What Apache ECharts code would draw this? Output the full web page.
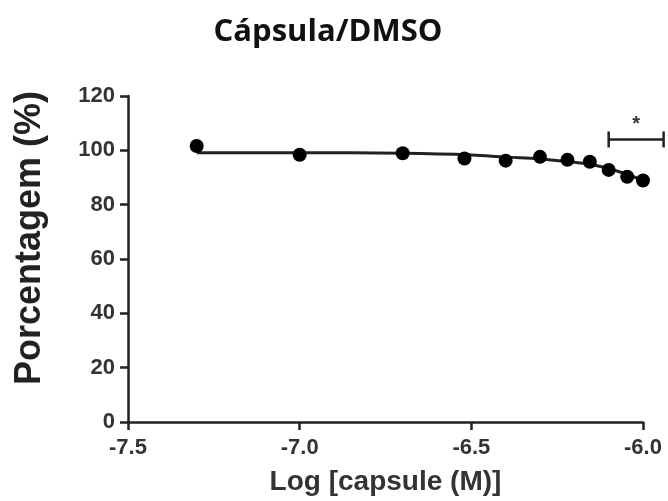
<!DOCTYPE html>
<html>
<head>
<meta charset="utf-8">
<script src="https://cdn.jsdelivr.net/npm/echarts@6/dist/echarts.min.js"></script>
<style>
  html, body { margin: 0; padding: 0; background: #ffffff; }
  #chart { width: 668px; height: 501px; }
</style>
</head>
<body>
<div id="chart"></div>
<script>
// Viability measurements: log molar concentration vs. percentage
const logConc = [-7.30, -7.00, -6.70, -6.52, -6.40, -6.30, -6.22, -6.155, -6.10, -6.046, -6.00];
const percent = [101.6, 98.4, 98.9, 97.0, 96.2, 97.6, 96.5, 95.8, 92.8, 90.3, 88.9];

// Fitted dose-response curve vertices
const fitX = [-7.30, -7.00, -6.70, -6.50, -6.40, -6.30, -6.20, -6.15, -6.10, -6.05, -6.00];
const fitY = [99.1, 99.1, 98.9, 98.3, 97.5, 96.8, 95.6, 94.8, 93.3, 91.3, 89.0];

// Significance bracket: [xStart, xEnd, y, label]
const sigBracket = [[-6.10, -5.94, 104, '*']];

const yTicks = { min: 0, max: 120, step: 20 };
const xTicks = { min: -7.5, max: -6.0, step: 0.5 };

const ink = '#222222';
const chart = echarts.init(document.getElementById('chart'), null, { renderer: 'canvas' });

chart.setOption({
  backgroundColor: '#ffffff',
  animation: false,
  title: {
    text: 'Cápsula/DMSO',
    left: 323,
    top: 12,
    textAlign: 'center',
    textStyle: {
      fontFamily: 'Open Sans',
      fontWeight: 'bold',
      fontSize: 31,
      color: '#111111'
    }
  },
  grid: { left: 128, right: 25, top: 96, bottom: 78, containLabel: false },
  xAxis: {
    type: 'value',
    min: xTicks.min,
    max: xTicks.max,
    interval: xTicks.step,
    name: 'Log [capsule (M)]',
    nameLocation: 'middle',
    nameGap: 46,
    nameTextStyle: {
      fontFamily: 'Liberation Sans',
      fontWeight: 'bold',
      fontSize: 28,
      color: '#333333',
      lineHeight: 28
    },
    splitLine: { show: false },
    axisLine: { show: true, onZero: false, lineStyle: { color: ink, width: 2.5 } },
    axisTick: { show: true, inside: false, length: 8, lineStyle: { color: ink, width: 2.5 } },
    axisLabel: {
      margin: 15,
      fontFamily: 'Liberation Sans',
      fontWeight: 'bold',
      fontSize: 22,
      color: '#333333',
      formatter: v => v.toFixed(1)
    }
  },
  yAxis: {
    type: 'value',
    min: yTicks.min,
    max: yTicks.max,
    interval: yTicks.step,
    name: 'Porcentagem (%)',
    nameLocation: 'middle',
    nameRotate: 90,
    nameGap: 80,
    nameTextStyle: {
      fontFamily: 'Liberation Sans',
      fontWeight: 'bold',
      fontSize: 36,
      color: '#222222',
      padding: [0, 0, 0, 42]
    },
    splitLine: { show: false },
    axisLine: { show: true, onZero: false, lineStyle: { color: ink, width: 2.5 } },
    axisTick: { show: true, inside: false, length: 8, lineStyle: { color: ink, width: 2.5 } },
    axisLabel: {
      margin: 13,
      fontFamily: 'Liberation Sans',
      fontWeight: 'bold',
      fontSize: 22,
      color: '#333333'
    }
  },
  series: [
    {
      name: 'fit',
      type: 'line',
      data: fitX.map((x, i) => [x, fitY[i]]),
      smooth: 0.4,
      showSymbol: false,
      symbol: 'none',
      lineStyle: { color: ink, width: 3 },
      z: 2
    },
    {
      name: 'data',
      type: 'scatter',
      data: logConc.map((x, i) => [x, percent[i]]),
      symbol: 'circle',
      symbolSize: 14,
      itemStyle: { color: '#000000', opacity: 1 },
      clip: false,
      z: 3
    },
    {
      name: 'significance',
      type: 'custom',
      clip: false,
      data: sigBracket,
      renderItem: function (params, api) {
        const a = api.coord([api.value(0), api.value(2)]);
        const b = api.coord([api.value(1), api.value(2)]);
        const cap = 8;
        const style = { stroke: ink, lineWidth: 2.5 };
        return {
          type: 'group',
          children: [
            { type: 'line', shape: { x1: a[0], y1: a[1], x2: b[0], y2: b[1] }, style: style },
            { type: 'line', shape: { x1: a[0], y1: a[1] - cap, x2: a[0], y2: a[1] + cap }, style: style },
            { type: 'line', shape: { x1: b[0], y1: b[1] - cap, x2: b[0], y2: b[1] + cap }, style: style },
            {
              type: 'text',
              x: (a[0] + b[0]) / 2,
              y: a[1] - 15,
              style: {
                text: sigBracket[params.dataIndex][3],
                fontFamily: 'Liberation Sans',
                fontWeight: 'bold',
                fontSize: 20,
                fill: '#333333',
                align: 'center',
                verticalAlign: 'middle'
              }
            }
          ]
        };
      },
      z: 4
    }
  ]
});
</script>
</body>
</html>
